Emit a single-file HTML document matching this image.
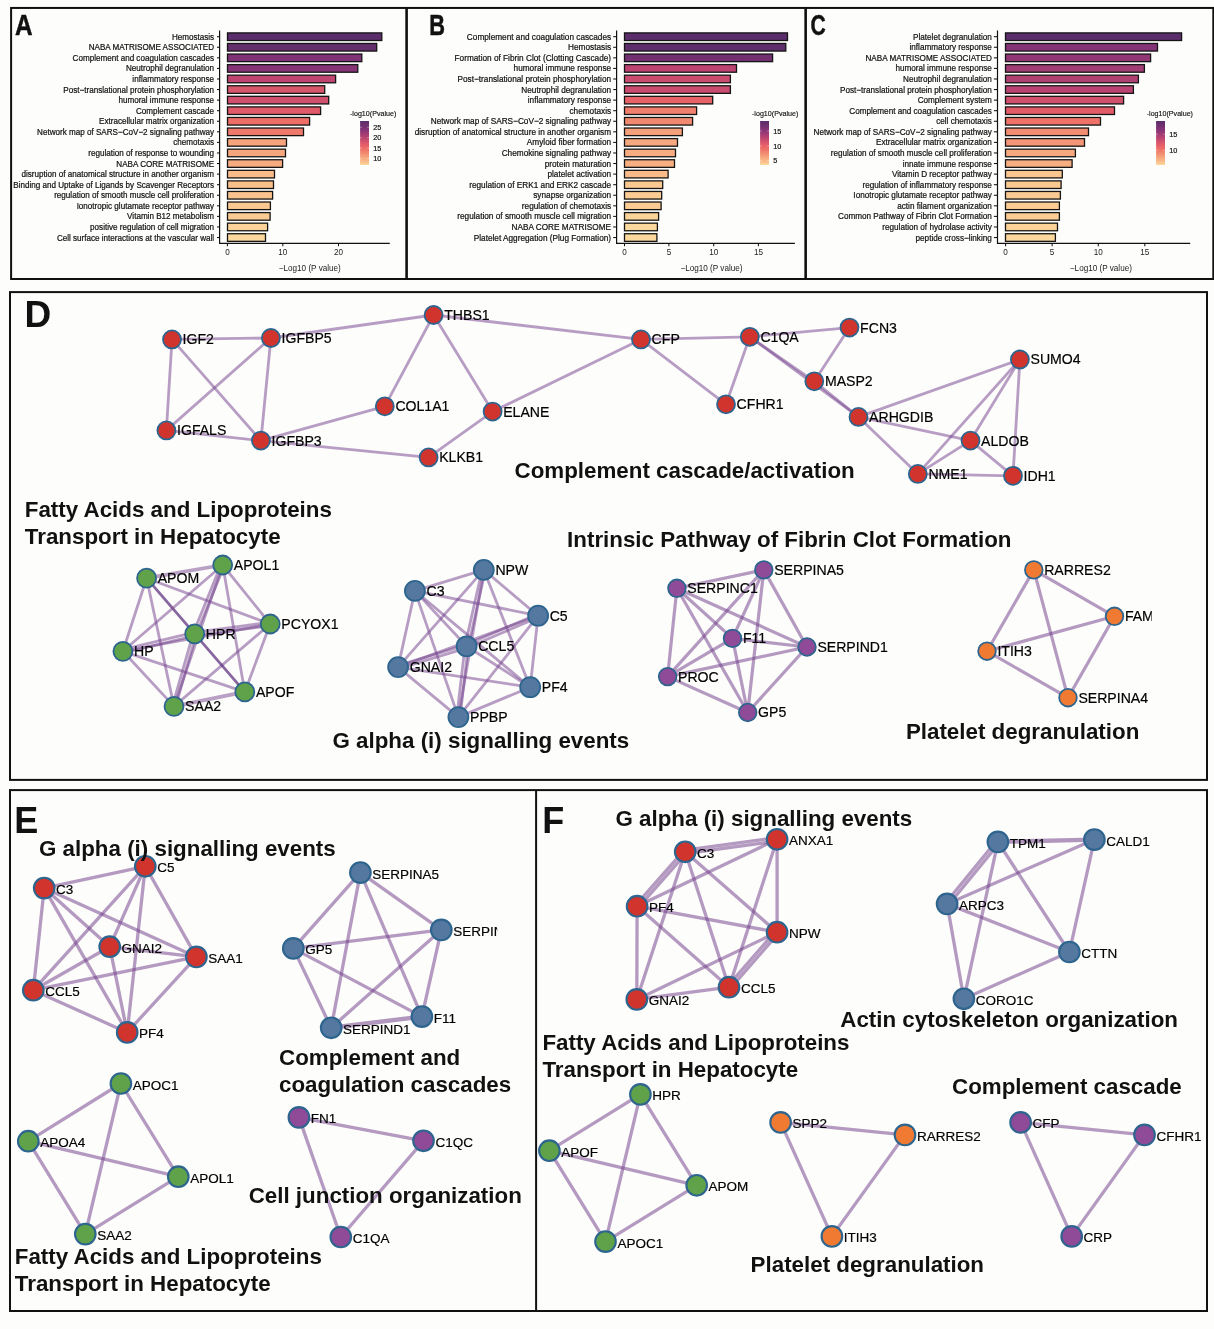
<!DOCTYPE html>
<html lang="en"><head><meta charset="utf-8"><title>Figure</title>
<style>
html,body{margin:0;padding:0;background:#fdfdfb;}
svg{display:block}
text{font-family:"Liberation Sans",Arial,sans-serif;fill:#111}
.bl{font-size:8.8px;text-anchor:end;stroke:#111;stroke-width:.22px}
.tk{font-size:8.8px;text-anchor:middle;fill:#222}
.ax{font-size:8.8px;text-anchor:middle;fill:#222}
.lg{font-size:7.7px;stroke:#111;stroke-width:.15px}
.ll{font-size:7.9px;stroke:#111;stroke-width:.2px}
.nl{font-size:14.1px;fill:#000;stroke:#000;stroke-width:.18px}
.hd{font-size:22.35px;font-weight:bold}
.pl{font-size:36px;font-weight:bold}
.e{stroke:#76458f;stroke-opacity:.52;stroke-width:2.8;stroke-linecap:round;fill:none}
.e2{stroke:#76458f;stroke-opacity:.54;stroke-width:5;stroke-linecap:round;fill:none}
.e3{stroke:#76458f;stroke-opacity:.54;stroke-width:7;stroke-linecap:round;fill:none}
.ed{stroke:#5a2c7d;stroke-opacity:.72;stroke-width:2.8;stroke-linecap:round;fill:none}
.em{stroke:#76458f;stroke-opacity:.5;stroke-width:3.8;stroke-linecap:round;fill:none}
.f{stroke:#76458f;stroke-opacity:.54;stroke-width:3.3;stroke-linecap:round;fill:none}
.fm{stroke:#76458f;stroke-opacity:.56;stroke-width:4.4;stroke-linecap:round;fill:none}
.g{stroke:#76458f;stroke-opacity:.54;stroke-width:3.2;stroke-linecap:round;fill:none}
.n{stroke:#2d658f}
</style></head><body>
<svg width="1214" height="1329" viewBox="0 0 1214 1329">
<rect x="0" y="0" width="1214" height="1329" fill="#fdfdfb"/>

<defs><linearGradient id="cb" x1="0" y1="1" x2="0" y2="0">
<stop offset="0" stop-color="#fbd99c"/>
<stop offset="0.076" stop-color="#fabd8a"/>
<stop offset="0.18" stop-color="#f5a47c"/>
<stop offset="0.324" stop-color="#ef7a6a"/>
<stop offset="0.376" stop-color="#ee6e66"/>
<stop offset="0.471" stop-color="#e25a69"/>
<stop offset="0.51" stop-color="#d9576b"/>
<stop offset="0.6" stop-color="#c04570"/>
<stop offset="0.8" stop-color="#853377"/>
<stop offset="0.957" stop-color="#642d6c"/>
<stop offset="1" stop-color="#5c2d6b"/>
</linearGradient></defs>
<rect x="227.5" y="32.90" width="154.3" height="7.6" fill="#5c2d6b" stroke="#151515" stroke-width="1.3"/>
<line x1="217.0" y1="36.70" x2="219.6" y2="36.70" stroke="#111" stroke-width="1.05"/>
<text class="bl" transform="translate(214.1 39.70) scale(0.9205 1)">Hemostasis</text>
<rect x="227.5" y="43.47" width="149.2" height="7.6" fill="#642d6c" stroke="#151515" stroke-width="1.3"/>
<line x1="217.0" y1="47.27" x2="219.6" y2="47.27" stroke="#111" stroke-width="1.05"/>
<text class="bl" transform="translate(214.1 50.27) scale(0.9205 1)">NABA MATRISOME ASSOCIATED</text>
<rect x="227.5" y="54.04" width="134.3" height="7.6" fill="#7f3275" stroke="#151515" stroke-width="1.3"/>
<line x1="217.0" y1="57.84" x2="219.6" y2="57.84" stroke="#111" stroke-width="1.05"/>
<text class="bl" transform="translate(214.1 60.84) scale(0.9205 1)">Complement and coagulation cascades</text>
<rect x="227.5" y="64.61" width="130.3" height="7.6" fill="#873477" stroke="#151515" stroke-width="1.3"/>
<line x1="217.0" y1="68.41" x2="219.6" y2="68.41" stroke="#111" stroke-width="1.05"/>
<text class="bl" transform="translate(214.1 71.41) scale(0.9205 1)">Neutrophil degranulation</text>
<rect x="227.5" y="75.18" width="108.1" height="7.6" fill="#bf4570" stroke="#151515" stroke-width="1.3"/>
<line x1="217.0" y1="78.98" x2="219.6" y2="78.98" stroke="#111" stroke-width="1.05"/>
<text class="bl" transform="translate(214.1 81.98) scale(0.9205 1)">inflammatory response</text>
<rect x="227.5" y="85.75" width="97.2" height="7.6" fill="#d9576b" stroke="#151515" stroke-width="1.3"/>
<line x1="217.0" y1="89.55" x2="219.6" y2="89.55" stroke="#111" stroke-width="1.05"/>
<text class="bl" transform="translate(214.1 92.55) scale(0.9205 1)">Post−translational protein phosphorylation</text>
<rect x="227.5" y="96.32" width="101.2" height="7.6" fill="#d0506d" stroke="#151515" stroke-width="1.3"/>
<line x1="217.0" y1="100.12" x2="219.6" y2="100.12" stroke="#111" stroke-width="1.05"/>
<text class="bl" transform="translate(214.1 103.12) scale(0.9205 1)">humoral immune response</text>
<rect x="227.5" y="106.89" width="93.1" height="7.6" fill="#e15a69" stroke="#151515" stroke-width="1.3"/>
<line x1="217.0" y1="110.69" x2="219.6" y2="110.69" stroke="#111" stroke-width="1.05"/>
<text class="bl" transform="translate(214.1 113.69) scale(0.9205 1)">Complement cascade</text>
<rect x="227.5" y="117.46" width="82.1" height="7.6" fill="#ee6d66" stroke="#151515" stroke-width="1.3"/>
<line x1="217.0" y1="121.26" x2="219.6" y2="121.26" stroke="#111" stroke-width="1.05"/>
<text class="bl" transform="translate(214.1 124.26) scale(0.9205 1)">Extracellular matrix organization</text>
<rect x="227.5" y="128.03" width="76.0" height="7.6" fill="#ef796a" stroke="#151515" stroke-width="1.3"/>
<line x1="217.0" y1="131.83" x2="219.6" y2="131.83" stroke="#111" stroke-width="1.05"/>
<text class="bl" transform="translate(214.1 134.83) scale(0.9205 1)">Network map of SARS−CoV−2 signaling pathway</text>
<rect x="227.5" y="138.60" width="59.0" height="7.6" fill="#f5a47c" stroke="#151515" stroke-width="1.3"/>
<line x1="217.0" y1="142.40" x2="219.6" y2="142.40" stroke="#111" stroke-width="1.05"/>
<text class="bl" transform="translate(214.1 145.40) scale(0.9205 1)">chemotaxis</text>
<rect x="227.5" y="149.17" width="58.0" height="7.6" fill="#f5a67d" stroke="#151515" stroke-width="1.3"/>
<line x1="217.0" y1="152.97" x2="219.6" y2="152.97" stroke="#111" stroke-width="1.05"/>
<text class="bl" transform="translate(214.1 155.97) scale(0.9205 1)">regulation of response to wounding</text>
<rect x="227.5" y="159.74" width="55.1" height="7.6" fill="#f7ac80" stroke="#151515" stroke-width="1.3"/>
<line x1="217.0" y1="163.54" x2="219.6" y2="163.54" stroke="#111" stroke-width="1.05"/>
<text class="bl" transform="translate(214.1 166.54) scale(0.9205 1)">NABA CORE MATRISOME</text>
<rect x="227.5" y="170.31" width="47.0" height="7.6" fill="#fabd8a" stroke="#151515" stroke-width="1.3"/>
<line x1="217.0" y1="174.11" x2="219.6" y2="174.11" stroke="#111" stroke-width="1.05"/>
<text class="bl" transform="translate(214.1 177.11) scale(0.9205 1)">disruption of anatomical structure in another organism</text>
<rect x="227.5" y="180.88" width="46.0" height="7.6" fill="#fac08c" stroke="#151515" stroke-width="1.3"/>
<line x1="217.0" y1="184.68" x2="219.6" y2="184.68" stroke="#111" stroke-width="1.05"/>
<text class="bl" transform="translate(214.1 187.68) scale(0.9205 1)">Binding and Uptake of Ligands by Scavenger Receptors</text>
<rect x="227.5" y="191.45" width="45.1" height="7.6" fill="#fac38e" stroke="#151515" stroke-width="1.3"/>
<line x1="217.0" y1="195.25" x2="219.6" y2="195.25" stroke="#111" stroke-width="1.05"/>
<text class="bl" transform="translate(214.1 198.25) scale(0.9205 1)">regulation of smooth muscle cell proliferation</text>
<rect x="227.5" y="202.02" width="42.9" height="7.6" fill="#fac992" stroke="#151515" stroke-width="1.3"/>
<line x1="217.0" y1="205.82" x2="219.6" y2="205.82" stroke="#111" stroke-width="1.05"/>
<text class="bl" transform="translate(214.1 208.82) scale(0.9205 1)">Ionotropic glutamate receptor pathway</text>
<rect x="227.5" y="212.59" width="42.6" height="7.6" fill="#faca93" stroke="#151515" stroke-width="1.3"/>
<line x1="217.0" y1="216.39" x2="219.6" y2="216.39" stroke="#111" stroke-width="1.05"/>
<text class="bl" transform="translate(214.1 219.39) scale(0.9205 1)">Vitamin B12 metabolism</text>
<rect x="227.5" y="223.16" width="40.1" height="7.6" fill="#fbd298" stroke="#151515" stroke-width="1.3"/>
<line x1="217.0" y1="226.96" x2="219.6" y2="226.96" stroke="#111" stroke-width="1.05"/>
<text class="bl" transform="translate(214.1 229.96) scale(0.9205 1)">positive regulation of cell migration</text>
<rect x="227.5" y="233.73" width="38.0" height="7.6" fill="#fbd99c" stroke="#151515" stroke-width="1.3"/>
<line x1="217.0" y1="237.53" x2="219.6" y2="237.53" stroke="#111" stroke-width="1.05"/>
<text class="bl" transform="translate(214.1 240.53) scale(0.9205 1)">Cell surface interactions at the vascular wall</text>
<path d="M219.6 30.4V243.4H389.8" fill="none" stroke="#111" stroke-width="1.2"/>
<line x1="227.4" y1="243.3" x2="227.4" y2="246.2" stroke="#111" stroke-width="1.05"/>
<text class="tk" transform="translate(227.4 254.9) scale(.926 1)">0</text>
<line x1="282.8" y1="243.3" x2="282.8" y2="246.2" stroke="#111" stroke-width="1.05"/>
<text class="tk" transform="translate(282.8 254.9) scale(.926 1)">10</text>
<line x1="338.5" y1="243.3" x2="338.5" y2="246.2" stroke="#111" stroke-width="1.05"/>
<text class="tk" transform="translate(338.5 254.9) scale(.926 1)">20</text>
<text class="ax" transform="translate(309.8 270.6) scale(.926 1)">−Log10 (P value)</text>
<text class="lg" transform="translate(350.0 115.7) scale(.926 1)">-log10(Pvalue)</text>
<rect x="360.1" y="121" width="8.9" height="44" fill="url(#cb)"/>
<path d="M360.1 127.3h1.8M369.0 127.3h-1.8" stroke="#fff" stroke-opacity=".7" stroke-width=".5"/>
<text class="ll" transform="translate(373.3 130.1) scale(.926 1)">25</text>
<path d="M360.1 137.7h1.8M369.0 137.7h-1.8" stroke="#fff" stroke-opacity=".7" stroke-width=".5"/>
<text class="ll" transform="translate(373.3 140.4) scale(.926 1)">20</text>
<path d="M360.1 148.0h1.8M369.0 148.0h-1.8" stroke="#fff" stroke-opacity=".7" stroke-width=".5"/>
<text class="ll" transform="translate(373.3 150.8) scale(.926 1)">15</text>
<path d="M360.1 158.5h1.8M369.0 158.5h-1.8" stroke="#fff" stroke-opacity=".7" stroke-width=".5"/>
<text class="ll" transform="translate(373.3 161.2) scale(.926 1)">10</text>
<rect x="624.5" y="32.90" width="163.0" height="7.6" fill="#5c2d6b" stroke="#151515" stroke-width="1.3"/>
<line x1="613.2" y1="36.70" x2="616.6" y2="36.70" stroke="#111" stroke-width="1.05"/>
<text class="bl" transform="translate(611.1 39.70) scale(0.9375 1)">Complement and coagulation cascades</text>
<rect x="624.5" y="43.47" width="161.3" height="7.6" fill="#5e2d6b" stroke="#151515" stroke-width="1.3"/>
<line x1="613.2" y1="47.27" x2="616.6" y2="47.27" stroke="#111" stroke-width="1.05"/>
<text class="bl" transform="translate(611.1 50.27) scale(0.9375 1)">Hemostasis</text>
<rect x="624.5" y="54.04" width="148.1" height="7.6" fill="#733071" stroke="#151515" stroke-width="1.3"/>
<line x1="613.2" y1="57.84" x2="616.6" y2="57.84" stroke="#111" stroke-width="1.05"/>
<text class="bl" transform="translate(611.1 60.84) scale(0.9375 1)">Formation of Fibrin Clot (Clotting Cascade)</text>
<rect x="624.5" y="64.61" width="112.0" height="7.6" fill="#bd4470" stroke="#151515" stroke-width="1.3"/>
<line x1="613.2" y1="68.41" x2="616.6" y2="68.41" stroke="#111" stroke-width="1.05"/>
<text class="bl" transform="translate(611.1 71.41) scale(0.9375 1)">humoral immune response</text>
<rect x="624.5" y="75.18" width="105.9" height="7.6" fill="#ca4c6e" stroke="#151515" stroke-width="1.3"/>
<line x1="613.2" y1="78.98" x2="616.6" y2="78.98" stroke="#111" stroke-width="1.05"/>
<text class="bl" transform="translate(611.1 81.98) scale(0.9375 1)">Post−translational protein phosphorylation</text>
<rect x="624.5" y="85.75" width="105.9" height="7.6" fill="#ca4c6e" stroke="#151515" stroke-width="1.3"/>
<line x1="613.2" y1="89.55" x2="616.6" y2="89.55" stroke="#111" stroke-width="1.05"/>
<text class="bl" transform="translate(611.1 92.55) scale(0.9375 1)">Neutrophil degranulation</text>
<rect x="624.5" y="96.32" width="88.2" height="7.6" fill="#e86368" stroke="#151515" stroke-width="1.3"/>
<line x1="613.2" y1="100.12" x2="616.6" y2="100.12" stroke="#111" stroke-width="1.05"/>
<text class="bl" transform="translate(611.1 103.12) scale(0.9375 1)">inflammatory response</text>
<rect x="624.5" y="106.89" width="72.1" height="7.6" fill="#f0806d" stroke="#151515" stroke-width="1.3"/>
<line x1="613.2" y1="110.69" x2="616.6" y2="110.69" stroke="#111" stroke-width="1.05"/>
<text class="bl" transform="translate(611.1 113.69) scale(0.9375 1)">chemotaxis</text>
<rect x="624.5" y="117.46" width="68.1" height="7.6" fill="#f18970" stroke="#151515" stroke-width="1.3"/>
<line x1="613.2" y1="121.26" x2="616.6" y2="121.26" stroke="#111" stroke-width="1.05"/>
<text class="bl" transform="translate(611.1 124.26) scale(0.9375 1)">Network map of SARS−CoV−2 signaling pathway</text>
<rect x="624.5" y="128.03" width="57.9" height="7.6" fill="#f4a07a" stroke="#151515" stroke-width="1.3"/>
<line x1="613.2" y1="131.83" x2="616.6" y2="131.83" stroke="#111" stroke-width="1.05"/>
<text class="bl" transform="translate(611.1 134.83) scale(0.9375 1)">disruption of anatomical structure in another organism</text>
<rect x="624.5" y="138.60" width="53.0" height="7.6" fill="#f6a97f" stroke="#151515" stroke-width="1.3"/>
<line x1="613.2" y1="142.40" x2="616.6" y2="142.40" stroke="#111" stroke-width="1.05"/>
<text class="bl" transform="translate(611.1 145.40) scale(0.9375 1)">Amyloid fiber formation</text>
<rect x="624.5" y="149.17" width="51.0" height="7.6" fill="#f7ad81" stroke="#151515" stroke-width="1.3"/>
<line x1="613.2" y1="152.97" x2="616.6" y2="152.97" stroke="#111" stroke-width="1.05"/>
<text class="bl" transform="translate(611.1 155.97) scale(0.9375 1)">Chemokine signaling pathway</text>
<rect x="624.5" y="159.74" width="50.0" height="7.6" fill="#f7af82" stroke="#151515" stroke-width="1.3"/>
<line x1="613.2" y1="163.54" x2="616.6" y2="163.54" stroke="#111" stroke-width="1.05"/>
<text class="bl" transform="translate(611.1 166.54) scale(0.9375 1)">protein maturation</text>
<rect x="624.5" y="170.31" width="43.6" height="7.6" fill="#fabb89" stroke="#151515" stroke-width="1.3"/>
<line x1="613.2" y1="174.11" x2="616.6" y2="174.11" stroke="#111" stroke-width="1.05"/>
<text class="bl" transform="translate(611.1 177.11) scale(0.9375 1)">platelet activation</text>
<rect x="624.5" y="180.88" width="38.2" height="7.6" fill="#fac991" stroke="#151515" stroke-width="1.3"/>
<line x1="613.2" y1="184.68" x2="616.6" y2="184.68" stroke="#111" stroke-width="1.05"/>
<text class="bl" transform="translate(611.1 187.68) scale(0.9375 1)">regulation of ERK1 and ERK2 cascade</text>
<rect x="624.5" y="191.45" width="37.2" height="7.6" fill="#fbcb93" stroke="#151515" stroke-width="1.3"/>
<line x1="613.2" y1="195.25" x2="616.6" y2="195.25" stroke="#111" stroke-width="1.05"/>
<text class="bl" transform="translate(611.1 198.25) scale(0.9375 1)">synapse organization</text>
<rect x="624.5" y="202.02" width="36.6" height="7.6" fill="#fbcd94" stroke="#151515" stroke-width="1.3"/>
<line x1="613.2" y1="205.82" x2="616.6" y2="205.82" stroke="#111" stroke-width="1.05"/>
<text class="bl" transform="translate(611.1 208.82) scale(0.9375 1)">regulation of chemotaxis</text>
<rect x="624.5" y="212.59" width="34.1" height="7.6" fill="#fbd499" stroke="#151515" stroke-width="1.3"/>
<line x1="613.2" y1="216.39" x2="616.6" y2="216.39" stroke="#111" stroke-width="1.05"/>
<text class="bl" transform="translate(611.1 219.39) scale(0.9375 1)">regulation of smooth muscle cell migration</text>
<rect x="624.5" y="223.16" width="32.9" height="7.6" fill="#fbd89b" stroke="#151515" stroke-width="1.3"/>
<line x1="613.2" y1="226.96" x2="616.6" y2="226.96" stroke="#111" stroke-width="1.05"/>
<text class="bl" transform="translate(611.1 229.96) scale(0.9375 1)">NABA CORE MATRISOME</text>
<rect x="624.5" y="233.73" width="32.4" height="7.6" fill="#fbd99c" stroke="#151515" stroke-width="1.3"/>
<line x1="613.2" y1="237.53" x2="616.6" y2="237.53" stroke="#111" stroke-width="1.05"/>
<text class="bl" transform="translate(611.1 240.53) scale(0.9375 1)">Platelet Aggregation (Plug Formation)</text>
<path d="M616.6 30.4V243.4H794.9" fill="none" stroke="#111" stroke-width="1.2"/>
<line x1="624.5" y1="243.3" x2="624.5" y2="246.2" stroke="#111" stroke-width="1.05"/>
<text class="tk" transform="translate(624.5 254.9) scale(.926 1)">0</text>
<line x1="668.9" y1="243.3" x2="668.9" y2="246.2" stroke="#111" stroke-width="1.05"/>
<text class="tk" transform="translate(668.9 254.9) scale(.926 1)">5</text>
<line x1="713.7" y1="243.3" x2="713.7" y2="246.2" stroke="#111" stroke-width="1.05"/>
<text class="tk" transform="translate(713.7 254.9) scale(.926 1)">10</text>
<line x1="758.4" y1="243.3" x2="758.4" y2="246.2" stroke="#111" stroke-width="1.05"/>
<text class="tk" transform="translate(758.4 254.9) scale(.926 1)">15</text>
<text class="ax" transform="translate(711.5 270.6) scale(.926 1)">−Log10 (P value)</text>
<text class="lg" transform="translate(752.0 115.7) scale(.926 1)">-log10(Pvalue)</text>
<rect x="760.1" y="121" width="8.9" height="44" fill="url(#cb)"/>
<path d="M760.1 131.0h1.8M769.0 131.0h-1.8" stroke="#fff" stroke-opacity=".7" stroke-width=".5"/>
<text class="ll" transform="translate(773.3 133.8) scale(.926 1)">15</text>
<path d="M760.1 145.8h1.8M769.0 145.8h-1.8" stroke="#fff" stroke-opacity=".7" stroke-width=".5"/>
<text class="ll" transform="translate(773.3 148.6) scale(.926 1)">10</text>
<path d="M760.1 160.5h1.8M769.0 160.5h-1.8" stroke="#fff" stroke-opacity=".7" stroke-width=".5"/>
<text class="ll" transform="translate(773.3 163.2) scale(.926 1)">5</text>
<rect x="1005.5" y="32.90" width="176.1" height="7.6" fill="#5c2d6b" stroke="#151515" stroke-width="1.3"/>
<line x1="993.9" y1="36.70" x2="997.5" y2="36.70" stroke="#111" stroke-width="1.05"/>
<text class="bl" transform="translate(991.8 39.70) scale(0.9261 1)">Platelet degranulation</text>
<rect x="1005.5" y="43.47" width="152.0" height="7.6" fill="#833376" stroke="#151515" stroke-width="1.3"/>
<line x1="993.9" y1="47.27" x2="997.5" y2="47.27" stroke="#111" stroke-width="1.05"/>
<text class="bl" transform="translate(991.8 50.27) scale(0.9261 1)">inflammatory response</text>
<rect x="1005.5" y="54.04" width="145.1" height="7.6" fill="#923775" stroke="#151515" stroke-width="1.3"/>
<line x1="993.9" y1="57.84" x2="997.5" y2="57.84" stroke="#111" stroke-width="1.05"/>
<text class="bl" transform="translate(991.8 60.84) scale(0.9261 1)">NABA MATRISOME ASSOCIATED</text>
<rect x="1005.5" y="64.61" width="138.9" height="7.6" fill="#a13c74" stroke="#151515" stroke-width="1.3"/>
<line x1="993.9" y1="68.41" x2="997.5" y2="68.41" stroke="#111" stroke-width="1.05"/>
<text class="bl" transform="translate(991.8 71.41) scale(0.9261 1)">humoral immune response</text>
<rect x="1005.5" y="75.18" width="132.9" height="7.6" fill="#af4072" stroke="#151515" stroke-width="1.3"/>
<line x1="993.9" y1="78.98" x2="997.5" y2="78.98" stroke="#111" stroke-width="1.05"/>
<text class="bl" transform="translate(991.8 81.98) scale(0.9261 1)">Neutrophil degranulation</text>
<rect x="1005.5" y="85.75" width="127.9" height="7.6" fill="#bb4371" stroke="#151515" stroke-width="1.3"/>
<line x1="993.9" y1="89.55" x2="997.5" y2="89.55" stroke="#111" stroke-width="1.05"/>
<text class="bl" transform="translate(991.8 92.55) scale(0.9261 1)">Post−translational protein phosphorylation</text>
<rect x="1005.5" y="96.32" width="118.1" height="7.6" fill="#d1516d" stroke="#151515" stroke-width="1.3"/>
<line x1="993.9" y1="100.12" x2="997.5" y2="100.12" stroke="#111" stroke-width="1.05"/>
<text class="bl" transform="translate(991.8 103.12) scale(0.9261 1)">Complement system</text>
<rect x="1005.5" y="106.89" width="109.0" height="7.6" fill="#e25b69" stroke="#151515" stroke-width="1.3"/>
<line x1="993.9" y1="110.69" x2="997.5" y2="110.69" stroke="#111" stroke-width="1.05"/>
<text class="bl" transform="translate(991.8 113.69) scale(0.9261 1)">Complement and coagulation cascades</text>
<rect x="1005.5" y="117.46" width="95.0" height="7.6" fill="#ee7267" stroke="#151515" stroke-width="1.3"/>
<line x1="993.9" y1="121.26" x2="997.5" y2="121.26" stroke="#111" stroke-width="1.05"/>
<text class="bl" transform="translate(991.8 124.26) scale(0.9261 1)">cell chemotaxis</text>
<rect x="1005.5" y="128.03" width="83.0" height="7.6" fill="#f28c72" stroke="#151515" stroke-width="1.3"/>
<line x1="993.9" y1="131.83" x2="997.5" y2="131.83" stroke="#111" stroke-width="1.05"/>
<text class="bl" transform="translate(991.8 134.83) scale(0.9261 1)">Network map of SARS−CoV−2 signaling pathway</text>
<rect x="1005.5" y="138.60" width="79.0" height="7.6" fill="#f39576" stroke="#151515" stroke-width="1.3"/>
<line x1="993.9" y1="142.40" x2="997.5" y2="142.40" stroke="#111" stroke-width="1.05"/>
<text class="bl" transform="translate(991.8 145.40) scale(0.9261 1)">Extracellular matrix organization</text>
<rect x="1005.5" y="149.17" width="69.9" height="7.6" fill="#f6a97f" stroke="#151515" stroke-width="1.3"/>
<line x1="993.9" y1="152.97" x2="997.5" y2="152.97" stroke="#111" stroke-width="1.05"/>
<text class="bl" transform="translate(991.8 155.97) scale(0.9261 1)">regulation of smooth muscle cell proliferation</text>
<rect x="1005.5" y="159.74" width="66.6" height="7.6" fill="#f7af82" stroke="#151515" stroke-width="1.3"/>
<line x1="993.9" y1="163.54" x2="997.5" y2="163.54" stroke="#111" stroke-width="1.05"/>
<text class="bl" transform="translate(991.8 166.54) scale(0.9261 1)">innate immune response</text>
<rect x="1005.5" y="170.31" width="56.8" height="7.6" fill="#fac58f" stroke="#151515" stroke-width="1.3"/>
<line x1="993.9" y1="174.11" x2="997.5" y2="174.11" stroke="#111" stroke-width="1.05"/>
<text class="bl" transform="translate(991.8 177.11) scale(0.9261 1)">Vitamin D receptor pathway</text>
<rect x="1005.5" y="180.88" width="55.6" height="7.6" fill="#fac891" stroke="#151515" stroke-width="1.3"/>
<line x1="993.9" y1="184.68" x2="997.5" y2="184.68" stroke="#111" stroke-width="1.05"/>
<text class="bl" transform="translate(991.8 187.68) scale(0.9261 1)">regulation of inflammatory response</text>
<rect x="1005.5" y="191.45" width="54.9" height="7.6" fill="#faca93" stroke="#151515" stroke-width="1.3"/>
<line x1="993.9" y1="195.25" x2="997.5" y2="195.25" stroke="#111" stroke-width="1.05"/>
<text class="bl" transform="translate(991.8 198.25) scale(0.9261 1)">Ionotropic glutamate receptor pathway</text>
<rect x="1005.5" y="202.02" width="53.9" height="7.6" fill="#fbcd94" stroke="#151515" stroke-width="1.3"/>
<line x1="993.9" y1="205.82" x2="997.5" y2="205.82" stroke="#111" stroke-width="1.05"/>
<text class="bl" transform="translate(991.8 208.82) scale(0.9261 1)">actin filament organization</text>
<rect x="1005.5" y="212.59" width="53.9" height="7.6" fill="#fbcd94" stroke="#151515" stroke-width="1.3"/>
<line x1="993.9" y1="216.39" x2="997.5" y2="216.39" stroke="#111" stroke-width="1.05"/>
<text class="bl" transform="translate(991.8 219.39) scale(0.9261 1)">Common Pathway of Fibrin Clot Formation</text>
<rect x="1005.5" y="223.16" width="52.0" height="7.6" fill="#fbd398" stroke="#151515" stroke-width="1.3"/>
<line x1="993.9" y1="226.96" x2="997.5" y2="226.96" stroke="#111" stroke-width="1.05"/>
<text class="bl" transform="translate(991.8 229.96) scale(0.9261 1)">regulation of hydrolase activity</text>
<rect x="1005.5" y="233.73" width="49.9" height="7.6" fill="#fbd99c" stroke="#151515" stroke-width="1.3"/>
<line x1="993.9" y1="237.53" x2="997.5" y2="237.53" stroke="#111" stroke-width="1.05"/>
<text class="bl" transform="translate(991.8 240.53) scale(0.9261 1)">peptide cross−linking</text>
<path d="M997.5 30.4V243.4H1190.2" fill="none" stroke="#111" stroke-width="1.2"/>
<line x1="1005.6" y1="243.3" x2="1005.6" y2="246.2" stroke="#111" stroke-width="1.05"/>
<text class="tk" transform="translate(1005.6 254.9) scale(.926 1)">0</text>
<line x1="1052.1" y1="243.3" x2="1052.1" y2="246.2" stroke="#111" stroke-width="1.05"/>
<text class="tk" transform="translate(1052.1 254.9) scale(.926 1)">5</text>
<line x1="1098.3" y1="243.3" x2="1098.3" y2="246.2" stroke="#111" stroke-width="1.05"/>
<text class="tk" transform="translate(1098.3 254.9) scale(.926 1)">10</text>
<line x1="1144.8" y1="243.3" x2="1144.8" y2="246.2" stroke="#111" stroke-width="1.05"/>
<text class="tk" transform="translate(1144.8 254.9) scale(.926 1)">15</text>
<text class="ax" transform="translate(1100.9 270.6) scale(.926 1)">−Log10 (P value)</text>
<text class="lg" transform="translate(1146.7 115.7) scale(.926 1)">-log10(Pvalue)</text>
<rect x="1156.1" y="121" width="8.9" height="44" fill="url(#cb)"/>
<path d="M1156.1 134.3h1.8M1165.0 134.3h-1.8" stroke="#fff" stroke-opacity=".7" stroke-width=".5"/>
<text class="ll" transform="translate(1169.3 137.1) scale(.926 1)">15</text>
<path d="M1156.1 150.3h1.8M1165.0 150.3h-1.8" stroke="#fff" stroke-opacity=".7" stroke-width=".5"/>
<text class="ll" transform="translate(1169.3 153.1) scale(.926 1)">10</text>
<text transform="translate(15.1 34.9) scale(0.83 1)" style="font-size:29.3px;font-weight:bold;stroke:#111;stroke-width:.5px">A</text>
<text transform="translate(429.3 34.9) scale(0.745 1)" style="font-size:29.3px;font-weight:bold;stroke:#111;stroke-width:.5px">B</text>
<text transform="translate(810.5 34.9) scale(0.72 1)" style="font-size:29.3px;font-weight:bold;stroke:#111;stroke-width:.5px">C</text>
<g fill="none" stroke="#111" stroke-width="2">
<rect x="11.1" y="7.95" width="1202.2" height="271.05"/>
<path d="M406.6 7.95V279M805.65 7.95V279" stroke-width="2.6"/>
<rect x="10" y="292.1" width="1197" height="487.8"/>
<rect x="10" y="790.1" width="1197" height="520.9"/>
<path d="M536.1 790.1V1311"/>
</g>
<defs><clipPath id="c1"><rect x="1100" y="600" width="51.8" height="40"/></clipPath><clipPath id="c2"><rect x="430" y="910" width="67.2" height="40"/></clipPath></defs>
<line class="e" x1="172.0" y1="339.4" x2="270.9" y2="338.0"/>
<line class="e" x1="172.0" y1="339.4" x2="166.4" y2="430.4"/>
<line class="e" x1="172.0" y1="339.4" x2="260.9" y2="440.6"/>
<line class="e" x1="270.9" y1="338.0" x2="166.4" y2="430.4"/>
<line class="e" x1="270.9" y1="338.0" x2="260.9" y2="440.6"/>
<line class="e" x1="166.4" y1="430.4" x2="260.9" y2="440.6"/>
<line class="e" x1="270.9" y1="338.0" x2="433.6" y2="315.0"/>
<line class="e" x1="433.6" y1="315.0" x2="384.8" y2="406.3"/>
<line class="e" x1="433.6" y1="315.0" x2="492.6" y2="411.6"/>
<line class="e" x1="384.8" y1="406.3" x2="260.9" y2="440.6"/>
<line class="e" x1="260.9" y1="440.6" x2="428.6" y2="457.4"/>
<line class="e" x1="428.6" y1="457.4" x2="492.6" y2="411.6"/>
<line class="e" x1="433.6" y1="315.0" x2="641.0" y2="339.4"/>
<line class="e" x1="492.6" y1="411.6" x2="641.0" y2="339.4"/>
<line class="e" x1="641.0" y1="339.4" x2="749.8" y2="336.8"/>
<line class="e" x1="641.0" y1="339.4" x2="726.0" y2="404.3"/>
<line class="e" x1="749.8" y1="336.8" x2="726.0" y2="404.3"/>
<line class="e" x1="749.8" y1="336.8" x2="849.5" y2="327.6"/>
<line class="e" x1="749.8" y1="336.8" x2="814.3" y2="381.3"/>
<line class="e" x1="749.8" y1="336.8" x2="858.5" y2="416.9"/>
<line class="e" x1="849.5" y1="327.6" x2="814.3" y2="381.3"/>
<line class="e" x1="814.3" y1="381.3" x2="858.5" y2="416.9"/>
<line class="e" x1="858.5" y1="416.9" x2="1019.9" y2="359.5"/>
<line class="e" x1="858.5" y1="416.9" x2="970.5" y2="440.6"/>
<line class="e" x1="858.5" y1="416.9" x2="917.8" y2="473.9"/>
<line class="e" x1="1019.9" y1="359.5" x2="917.8" y2="473.9"/>
<line class="e" x1="1019.9" y1="359.5" x2="970.5" y2="440.6"/>
<line class="e" x1="1019.9" y1="359.5" x2="1013.0" y2="475.8"/>
<line class="e" x1="970.5" y1="440.6" x2="917.8" y2="473.9"/>
<line class="e" x1="970.5" y1="440.6" x2="1013.0" y2="475.8"/>
<line class="e" x1="917.8" y1="473.9" x2="1013.0" y2="475.8"/>
<circle class="n" cx="172.0" cy="339.4" r="9.0" fill="#d0342c" stroke-width="1.8"/>
<circle class="n" cx="270.9" cy="338.0" r="9.0" fill="#d0342c" stroke-width="1.8"/>
<circle class="n" cx="433.6" cy="315.0" r="9.0" fill="#d0342c" stroke-width="1.8"/>
<circle class="n" cx="384.8" cy="406.3" r="9.0" fill="#d0342c" stroke-width="1.8"/>
<circle class="n" cx="492.6" cy="411.6" r="9.0" fill="#d0342c" stroke-width="1.8"/>
<circle class="n" cx="166.4" cy="430.4" r="9.0" fill="#d0342c" stroke-width="1.8"/>
<circle class="n" cx="260.9" cy="440.6" r="9.0" fill="#d0342c" stroke-width="1.8"/>
<circle class="n" cx="428.6" cy="457.4" r="9.0" fill="#d0342c" stroke-width="1.8"/>
<circle class="n" cx="641.0" cy="339.4" r="9.0" fill="#d0342c" stroke-width="1.8"/>
<circle class="n" cx="749.8" cy="336.8" r="9.0" fill="#d0342c" stroke-width="1.8"/>
<circle class="n" cx="849.5" cy="327.6" r="9.0" fill="#d0342c" stroke-width="1.8"/>
<circle class="n" cx="814.3" cy="381.3" r="9.0" fill="#d0342c" stroke-width="1.8"/>
<circle class="n" cx="726.0" cy="404.3" r="9.0" fill="#d0342c" stroke-width="1.8"/>
<circle class="n" cx="858.5" cy="416.9" r="9.0" fill="#d0342c" stroke-width="1.8"/>
<circle class="n" cx="1019.9" cy="359.5" r="9.0" fill="#d0342c" stroke-width="1.8"/>
<circle class="n" cx="970.5" cy="440.6" r="9.0" fill="#d0342c" stroke-width="1.8"/>
<circle class="n" cx="917.8" cy="473.9" r="9.0" fill="#d0342c" stroke-width="1.8"/>
<circle class="n" cx="1013.0" cy="475.8" r="9.0" fill="#d0342c" stroke-width="1.8"/>
<text class="nl" x="182.6" y="344.3">IGF2</text>
<text class="nl" x="281.5" y="342.9">IGFBP5</text>
<text class="nl" x="444.2" y="319.9">THBS1</text>
<text class="nl" x="395.4" y="411.2">COL1A1</text>
<text class="nl" x="503.2" y="416.5">ELANE</text>
<text class="nl" x="177.0" y="435.3">IGFALS</text>
<text class="nl" x="271.5" y="445.5">IGFBP3</text>
<text class="nl" x="439.2" y="462.3">KLKB1</text>
<text class="nl" x="651.6" y="344.3">CFP</text>
<text class="nl" x="760.4" y="341.7">C1QA</text>
<text class="nl" x="860.1" y="332.5">FCN3</text>
<text class="nl" x="824.9" y="386.2">MASP2</text>
<text class="nl" x="736.6" y="409.2">CFHR1</text>
<text class="nl" x="869.1" y="421.8">ARHGDIB</text>
<text class="nl" x="1030.5" y="364.4">SUMO4</text>
<text class="nl" x="981.1" y="445.5">ALDOB</text>
<text class="nl" x="928.4" y="478.8">NME1</text>
<text class="nl" x="1023.6" y="480.7">IDH1</text>
<line class="em" x1="146.6" y1="578.2" x2="222.7" y2="565.0"/>
<line class="e" x1="146.6" y1="578.2" x2="270.2" y2="624.0"/>
<line class="ed" x1="146.6" y1="578.2" x2="194.7" y2="633.9"/>
<line class="e" x1="146.6" y1="578.2" x2="122.9" y2="651.3"/>
<line class="e" x1="146.6" y1="578.2" x2="174.0" y2="706.4"/>
<line class="e" x1="222.7" y1="565.0" x2="270.2" y2="624.0"/>
<line class="e" x1="224.2" y1="565.6" x2="196.2" y2="634.5"/>
<line class="e" x1="221.2" y1="564.4" x2="193.2" y2="633.3"/>
<line class="e" x1="222.7" y1="565.0" x2="122.9" y2="651.3"/>
<line class="e" x1="222.7" y1="565.0" x2="244.8" y2="691.9"/>
<line class="e" x1="222.7" y1="565.0" x2="174.0" y2="706.4"/>
<line class="e" x1="270.4" y1="625.6" x2="194.9" y2="635.5"/>
<line class="e" x1="270.0" y1="622.4" x2="194.5" y2="632.3"/>
<line class="e" x1="270.2" y1="624.0" x2="122.9" y2="651.3"/>
<line class="e" x1="270.2" y1="624.0" x2="244.8" y2="691.9"/>
<line class="e" x1="270.2" y1="624.0" x2="174.0" y2="706.4"/>
<line class="e" x1="195.1" y1="635.5" x2="123.3" y2="652.9"/>
<line class="e" x1="194.3" y1="632.3" x2="122.5" y2="649.7"/>
<line class="ed" x1="194.7" y1="633.9" x2="244.8" y2="691.9"/>
<line class="e" x1="196.2" y1="634.3" x2="175.5" y2="706.8"/>
<line class="e" x1="193.2" y1="633.5" x2="172.5" y2="706.0"/>
<line class="e" x1="122.9" y1="651.3" x2="244.8" y2="691.9"/>
<line class="e" x1="122.9" y1="651.3" x2="174.0" y2="706.4"/>
<line class="em" x1="244.8" y1="691.9" x2="174.0" y2="706.4"/>
<circle class="n" cx="146.6" cy="578.2" r="9.5" fill="#5fa249" stroke-width="1.8"/>
<circle class="n" cx="222.7" cy="565.0" r="9.5" fill="#5fa249" stroke-width="1.8"/>
<circle class="n" cx="270.2" cy="624.0" r="9.5" fill="#5fa249" stroke-width="1.8"/>
<circle class="n" cx="194.7" cy="633.9" r="9.5" fill="#5fa249" stroke-width="1.8"/>
<circle class="n" cx="122.9" cy="651.3" r="9.5" fill="#5fa249" stroke-width="1.8"/>
<circle class="n" cx="244.8" cy="691.9" r="9.5" fill="#5fa249" stroke-width="1.8"/>
<circle class="n" cx="174.0" cy="706.4" r="9.5" fill="#5fa249" stroke-width="1.8"/>
<text class="nl" x="157.7" y="583.1">APOM</text>
<text class="nl" x="233.8" y="569.9">APOL1</text>
<text class="nl" x="281.3" y="628.9">PCYOX1</text>
<text class="nl" x="205.8" y="638.8">HPR</text>
<text class="nl" x="134.0" y="656.2">HP</text>
<text class="nl" x="255.9" y="696.8">APOF</text>
<text class="nl" x="185.1" y="711.3">SAA2</text>
<line class="e" x1="483.8" y1="569.9" x2="414.9" y2="590.9"/>
<line class="e" x1="483.8" y1="569.9" x2="538.1" y2="615.7"/>
<line class="e" x1="485.4" y1="570.3" x2="468.2" y2="646.7"/>
<line class="e" x1="482.2" y1="569.5" x2="465.0" y2="645.9"/>
<line class="e" x1="483.8" y1="569.9" x2="398.1" y2="667.1"/>
<line class="e" x1="483.8" y1="569.9" x2="530.2" y2="687.2"/>
<line class="e" x1="483.8" y1="569.9" x2="458.4" y2="717.1"/>
<line class="e" x1="414.9" y1="590.9" x2="538.1" y2="615.7"/>
<line class="e" x1="414.9" y1="590.9" x2="466.6" y2="646.3"/>
<line class="e" x1="414.9" y1="590.9" x2="398.1" y2="667.1"/>
<line class="e" x1="414.9" y1="590.9" x2="530.2" y2="687.2"/>
<line class="e" x1="414.9" y1="590.9" x2="458.4" y2="717.1"/>
<line class="e" x1="538.7" y1="617.2" x2="467.2" y2="647.8"/>
<line class="e" x1="537.5" y1="614.2" x2="466.0" y2="644.8"/>
<line class="e" x1="538.1" y1="615.7" x2="398.1" y2="667.1"/>
<line class="e" x1="538.1" y1="615.7" x2="530.2" y2="687.2"/>
<line class="e" x1="538.1" y1="615.7" x2="458.4" y2="717.1"/>
<line class="e" x1="467.1" y1="647.8" x2="398.6" y2="668.6"/>
<line class="e" x1="466.1" y1="644.8" x2="397.6" y2="665.6"/>
<line class="e" x1="466.6" y1="646.3" x2="530.2" y2="687.2"/>
<line class="e" x1="468.2" y1="646.5" x2="460.0" y2="717.3"/>
<line class="e" x1="465.0" y1="646.1" x2="456.8" y2="716.9"/>
<line class="e" x1="398.1" y1="667.1" x2="530.2" y2="687.2"/>
<line class="e" x1="398.1" y1="667.1" x2="458.4" y2="717.1"/>
<line class="e" x1="530.2" y1="687.2" x2="458.4" y2="717.1"/>
<circle class="n" cx="483.8" cy="569.9" r="10.0" fill="#54789f" stroke-width="1.8"/>
<circle class="n" cx="414.9" cy="590.9" r="10.0" fill="#54789f" stroke-width="1.8"/>
<circle class="n" cx="538.1" cy="615.7" r="10.0" fill="#54789f" stroke-width="1.8"/>
<circle class="n" cx="466.6" cy="646.3" r="10.0" fill="#54789f" stroke-width="1.8"/>
<circle class="n" cx="398.1" cy="667.1" r="10.0" fill="#54789f" stroke-width="1.8"/>
<circle class="n" cx="530.2" cy="687.2" r="10.0" fill="#54789f" stroke-width="1.8"/>
<circle class="n" cx="458.4" cy="717.1" r="10.0" fill="#54789f" stroke-width="1.8"/>
<text class="nl" x="495.4" y="574.8">NPW</text>
<text class="nl" x="426.5" y="595.8">C3</text>
<text class="nl" x="549.7" y="620.6">C5</text>
<text class="nl" x="478.2" y="651.2">CCL5</text>
<text class="nl" x="409.7" y="672.0">GNAI2</text>
<text class="nl" x="541.8" y="692.1">PF4</text>
<text class="nl" x="470.0" y="722.0">PPBP</text>
<line class="g" x1="763.8" y1="569.9" x2="676.9" y2="588.3"/>
<line class="g" x1="763.8" y1="569.9" x2="732.5" y2="638.4"/>
<line class="g" x1="763.8" y1="569.9" x2="807.0" y2="647.0"/>
<line class="g" x1="763.8" y1="569.9" x2="667.6" y2="676.6"/>
<line class="g" x1="763.8" y1="569.9" x2="747.7" y2="712.5"/>
<line class="g" x1="676.9" y1="588.3" x2="732.5" y2="638.4"/>
<line class="g" x1="676.9" y1="588.3" x2="807.0" y2="647.0"/>
<line class="g" x1="676.9" y1="588.3" x2="667.6" y2="676.6"/>
<line class="g" x1="676.9" y1="588.3" x2="747.7" y2="712.5"/>
<line class="g" x1="732.5" y1="638.4" x2="807.0" y2="647.0"/>
<line class="g" x1="732.5" y1="638.4" x2="667.6" y2="676.6"/>
<line class="g" x1="732.5" y1="638.4" x2="747.7" y2="712.5"/>
<line class="g" x1="807.0" y1="647.0" x2="667.6" y2="676.6"/>
<line class="g" x1="807.0" y1="647.0" x2="747.7" y2="712.5"/>
<line class="g" x1="667.6" y1="676.6" x2="747.7" y2="712.5"/>
<circle class="n" cx="763.8" cy="569.9" r="8.8" fill="#8f4a98" stroke-width="1.8"/>
<circle class="n" cx="676.9" cy="588.3" r="8.8" fill="#8f4a98" stroke-width="1.8"/>
<circle class="n" cx="732.5" cy="638.4" r="8.8" fill="#8f4a98" stroke-width="1.8"/>
<circle class="n" cx="807.0" cy="647.0" r="8.8" fill="#8f4a98" stroke-width="1.8"/>
<circle class="n" cx="667.6" cy="676.6" r="8.8" fill="#8f4a98" stroke-width="1.8"/>
<circle class="n" cx="747.7" cy="712.5" r="8.8" fill="#8f4a98" stroke-width="1.8"/>
<text class="nl" x="774.2" y="574.8">SERPINA5</text>
<text class="nl" x="687.3" y="593.2">SERPINC1</text>
<text class="nl" x="742.9" y="643.3">F11</text>
<text class="nl" x="817.4" y="651.9">SERPIND1</text>
<text class="nl" x="678.0" y="681.5">PROC</text>
<text class="nl" x="758.1" y="717.4">GP5</text>
<line class="g" x1="1033.8" y1="569.9" x2="1114.5" y2="616.3"/>
<line class="g" x1="1033.8" y1="569.9" x2="987.0" y2="651.2"/>
<line class="g" x1="1033.8" y1="569.9" x2="1068.0" y2="697.7"/>
<line class="g" x1="1114.5" y1="616.3" x2="987.0" y2="651.2"/>
<line class="g" x1="1114.5" y1="616.3" x2="1068.0" y2="697.7"/>
<line class="g" x1="987.0" y1="651.2" x2="1068.0" y2="697.7"/>
<circle class="n" cx="1033.8" cy="569.9" r="8.8" fill="#f07a31" stroke-width="1.8"/>
<circle class="n" cx="1114.5" cy="616.3" r="8.8" fill="#f07a31" stroke-width="1.8"/>
<circle class="n" cx="987.0" cy="651.2" r="8.8" fill="#f07a31" stroke-width="1.8"/>
<circle class="n" cx="1068.0" cy="697.7" r="8.8" fill="#f07a31" stroke-width="1.8"/>
<text class="nl" x="1044.2" y="574.8">RARRES2</text>
<text class="nl" x="1124.9" y="621.2" clip-path="url(#c1)">FAM3C</text>
<text class="nl" x="997.4" y="656.1">ITIH3</text>
<text class="nl" x="1078.4" y="702.6">SERPINA4</text>
<line class="f" x1="145.3" y1="866.3" x2="44.2" y2="888.1"/>
<line class="f" x1="145.3" y1="866.3" x2="109.7" y2="946.7"/>
<line class="f" x1="145.3" y1="866.3" x2="196.4" y2="956.9"/>
<line class="f" x1="145.3" y1="866.3" x2="33.3" y2="990.2"/>
<line class="f" x1="145.3" y1="866.3" x2="127.2" y2="1032.4"/>
<line class="f" x1="44.2" y1="888.1" x2="109.7" y2="946.7"/>
<line class="f" x1="44.2" y1="888.1" x2="196.4" y2="956.9"/>
<line class="f" x1="44.2" y1="888.1" x2="33.3" y2="990.2"/>
<line class="f" x1="44.2" y1="888.1" x2="127.2" y2="1032.4"/>
<line class="f" x1="109.7" y1="946.7" x2="196.4" y2="956.9"/>
<line class="f" x1="109.7" y1="946.7" x2="33.3" y2="990.2"/>
<line class="f" x1="109.7" y1="946.7" x2="127.2" y2="1032.4"/>
<line class="f" x1="196.4" y1="956.9" x2="33.3" y2="990.2"/>
<line class="f" x1="196.4" y1="956.9" x2="127.2" y2="1032.4"/>
<line class="f" x1="33.3" y1="990.2" x2="127.2" y2="1032.4"/>
<circle class="n" cx="145.3" cy="866.3" r="10.3" fill="#d0342c" stroke-width="2.1"/>
<circle class="n" cx="44.2" cy="888.1" r="10.3" fill="#d0342c" stroke-width="2.1"/>
<circle class="n" cx="109.7" cy="946.7" r="10.3" fill="#d0342c" stroke-width="2.1"/>
<circle class="n" cx="196.4" cy="956.9" r="10.3" fill="#d0342c" stroke-width="2.1"/>
<circle class="n" cx="33.3" cy="990.2" r="10.3" fill="#d0342c" stroke-width="2.1"/>
<circle class="n" cx="127.2" cy="1032.4" r="10.3" fill="#d0342c" stroke-width="2.1"/>
<text class="nl" x="157.2" y="872.3" style="font-size:13.5px">C5</text>
<text class="nl" x="56.1" y="894.1" style="font-size:13.5px">C3</text>
<text class="nl" x="121.6" y="952.7" style="font-size:13.5px">GNAI2</text>
<text class="nl" x="208.3" y="962.9" style="font-size:13.5px">SAA1</text>
<text class="nl" x="45.2" y="996.2" style="font-size:13.5px">CCL5</text>
<text class="nl" x="139.1" y="1038.4" style="font-size:13.5px">PF4</text>
<line class="f" x1="360.4" y1="872.6" x2="441.3" y2="929.9"/>
<line class="f" x1="360.4" y1="872.6" x2="293.3" y2="948.4"/>
<line class="f" x1="360.4" y1="872.6" x2="421.9" y2="1016.6"/>
<line class="f" x1="360.4" y1="872.6" x2="331.2" y2="1027.8"/>
<line class="f" x1="441.3" y1="929.9" x2="293.3" y2="948.4"/>
<line class="f" x1="441.3" y1="929.9" x2="421.9" y2="1016.6"/>
<line class="f" x1="441.3" y1="929.9" x2="331.2" y2="1027.8"/>
<line class="f" x1="293.3" y1="948.4" x2="421.9" y2="1016.6"/>
<line class="f" x1="293.3" y1="948.4" x2="331.2" y2="1027.8"/>
<line class="fm" x1="421.9" y1="1016.6" x2="331.2" y2="1027.8"/>
<circle class="n" cx="360.4" cy="872.6" r="10.3" fill="#54789f" stroke-width="2.1"/>
<circle class="n" cx="441.3" cy="929.9" r="10.3" fill="#54789f" stroke-width="2.1"/>
<circle class="n" cx="293.3" cy="948.4" r="10.3" fill="#54789f" stroke-width="2.1"/>
<circle class="n" cx="421.9" cy="1016.6" r="10.3" fill="#54789f" stroke-width="2.1"/>
<circle class="n" cx="331.2" cy="1027.8" r="10.3" fill="#54789f" stroke-width="2.1"/>
<text class="nl" x="372.3" y="878.6" style="font-size:13.5px">SERPINA5</text>
<text class="nl" x="453.2" y="935.9" clip-path="url(#c2)" style="font-size:13.5px">SERPINF2</text>
<text class="nl" x="305.2" y="954.4" style="font-size:13.5px">GP5</text>
<text class="nl" x="433.8" y="1022.6" style="font-size:13.5px">F11</text>
<text class="nl" x="343.1" y="1033.8" style="font-size:13.5px">SERPIND1</text>
<line class="f" x1="120.9" y1="1083.5" x2="28.3" y2="1141.2"/>
<line class="f" x1="120.9" y1="1083.5" x2="178.3" y2="1176.7"/>
<line class="f" x1="120.9" y1="1083.5" x2="85.3" y2="1234.1"/>
<line class="f" x1="28.3" y1="1141.2" x2="178.3" y2="1176.7"/>
<line class="f" x1="28.3" y1="1141.2" x2="85.3" y2="1234.1"/>
<line class="f" x1="178.3" y1="1176.7" x2="85.3" y2="1234.1"/>
<circle class="n" cx="120.9" cy="1083.5" r="10.3" fill="#5fa249" stroke-width="2.1"/>
<circle class="n" cx="28.3" cy="1141.2" r="10.3" fill="#5fa249" stroke-width="2.1"/>
<circle class="n" cx="178.3" cy="1176.7" r="10.3" fill="#5fa249" stroke-width="2.1"/>
<circle class="n" cx="85.3" cy="1234.1" r="10.3" fill="#5fa249" stroke-width="2.1"/>
<text class="nl" x="132.8" y="1089.5" style="font-size:13.5px">APOC1</text>
<text class="nl" x="40.2" y="1147.2" style="font-size:13.5px">APOA4</text>
<text class="nl" x="190.2" y="1182.7" style="font-size:13.5px">APOL1</text>
<text class="nl" x="97.2" y="1240.1" style="font-size:13.5px">SAA2</text>
<line class="f" x1="298.9" y1="1117.4" x2="423.5" y2="1140.8"/>
<line class="f" x1="298.9" y1="1117.4" x2="340.8" y2="1237.0"/>
<line class="f" x1="423.5" y1="1140.8" x2="340.8" y2="1237.0"/>
<circle class="n" cx="298.9" cy="1117.4" r="10.3" fill="#8f4a98" stroke-width="2.1"/>
<circle class="n" cx="423.5" cy="1140.8" r="10.3" fill="#8f4a98" stroke-width="2.1"/>
<circle class="n" cx="340.8" cy="1237.0" r="10.3" fill="#8f4a98" stroke-width="2.1"/>
<text class="nl" x="310.8" y="1123.4" style="font-size:13.5px">FN1</text>
<text class="nl" x="435.4" y="1146.8" style="font-size:13.5px">C1QC</text>
<text class="nl" x="352.7" y="1243.0" style="font-size:13.5px">C1QA</text>
<line class="f" x1="777.3" y1="841.0" x2="685.4" y2="853.5"/>
<line class="f" x1="776.9" y1="837.6" x2="685.0" y2="850.1"/>
<line class="f" x1="777.1" y1="839.3" x2="637.1" y2="906.2"/>
<line class="f" x1="777.1" y1="839.3" x2="777.1" y2="932.2"/>
<line class="f" x1="777.1" y1="839.3" x2="729.0" y2="987.2"/>
<line class="f" x1="686.5" y1="852.9" x2="638.4" y2="907.3"/>
<line class="f" x1="683.9" y1="850.7" x2="635.8" y2="905.1"/>
<line class="f" x1="685.2" y1="851.8" x2="777.1" y2="932.2"/>
<line class="f" x1="685.2" y1="851.8" x2="729.0" y2="987.2"/>
<line class="f" x1="685.2" y1="851.8" x2="636.8" y2="999.4"/>
<line class="f" x1="637.1" y1="906.2" x2="777.1" y2="932.2"/>
<line class="f" x1="637.1" y1="906.2" x2="729.0" y2="987.2"/>
<line class="f" x1="637.1" y1="906.2" x2="636.8" y2="999.4"/>
<line class="f" x1="778.4" y1="933.3" x2="730.3" y2="988.3"/>
<line class="f" x1="775.8" y1="931.1" x2="727.7" y2="986.1"/>
<line class="f" x1="777.1" y1="932.2" x2="636.8" y2="999.4"/>
<line class="f" x1="729.0" y1="987.2" x2="636.8" y2="999.4"/>
<circle class="n" cx="777.1" cy="839.3" r="10.3" fill="#d0342c" stroke-width="2.1"/>
<circle class="n" cx="685.2" cy="851.8" r="10.3" fill="#d0342c" stroke-width="2.1"/>
<circle class="n" cx="637.1" cy="906.2" r="10.3" fill="#d0342c" stroke-width="2.1"/>
<circle class="n" cx="777.1" cy="932.2" r="10.3" fill="#d0342c" stroke-width="2.1"/>
<circle class="n" cx="729.0" cy="987.2" r="10.3" fill="#d0342c" stroke-width="2.1"/>
<circle class="n" cx="636.8" cy="999.4" r="10.3" fill="#d0342c" stroke-width="2.1"/>
<text class="nl" x="789.0" y="845.3" style="font-size:13.5px">ANXA1</text>
<text class="nl" x="697.1" y="857.8" style="font-size:13.5px">C3</text>
<text class="nl" x="649.0" y="912.2" style="font-size:13.5px">PF4</text>
<text class="nl" x="789.0" y="938.2" style="font-size:13.5px">NPW</text>
<text class="nl" x="740.9" y="993.2" style="font-size:13.5px">CCL5</text>
<text class="nl" x="648.7" y="1005.4" style="font-size:13.5px">GNAI2</text>
<line class="fm" x1="997.9" y1="841.9" x2="1094.4" y2="839.6"/>
<line class="f" x1="999.2" y1="843.0" x2="948.4" y2="905.0"/>
<line class="f" x1="996.6" y1="840.8" x2="945.8" y2="902.8"/>
<line class="f" x1="997.9" y1="841.9" x2="1069.4" y2="952.0"/>
<line class="f" x1="997.9" y1="841.9" x2="963.9" y2="998.8"/>
<line class="f" x1="1094.4" y1="839.6" x2="947.1" y2="903.9"/>
<line class="f" x1="1094.4" y1="839.6" x2="1069.4" y2="952.0"/>
<line class="f" x1="947.1" y1="903.9" x2="1069.4" y2="952.0"/>
<line class="f" x1="947.1" y1="903.9" x2="963.9" y2="998.8"/>
<line class="f" x1="1069.4" y1="952.0" x2="963.9" y2="998.8"/>
<circle class="n" cx="997.9" cy="841.9" r="10.3" fill="#54789f" stroke-width="2.1"/>
<circle class="n" cx="1094.4" cy="839.6" r="10.3" fill="#54789f" stroke-width="2.1"/>
<circle class="n" cx="947.1" cy="903.9" r="10.3" fill="#54789f" stroke-width="2.1"/>
<circle class="n" cx="1069.4" cy="952.0" r="10.3" fill="#54789f" stroke-width="2.1"/>
<circle class="n" cx="963.9" cy="998.8" r="10.3" fill="#54789f" stroke-width="2.1"/>
<text class="nl" x="1009.8" y="847.9" style="font-size:13.5px">TPM1</text>
<text class="nl" x="1106.3" y="845.6" style="font-size:13.5px">CALD1</text>
<text class="nl" x="959.0" y="909.9" style="font-size:13.5px">ARPC3</text>
<text class="nl" x="1081.3" y="958.0" style="font-size:13.5px">CTTN</text>
<text class="nl" x="975.8" y="1004.8" style="font-size:13.5px">CORO1C</text>
<line class="f" x1="640.4" y1="1094.4" x2="549.4" y2="1150.7"/>
<line class="f" x1="640.4" y1="1094.4" x2="696.7" y2="1185.3"/>
<line class="f" x1="640.4" y1="1094.4" x2="605.5" y2="1241.6"/>
<line class="f" x1="549.4" y1="1150.7" x2="696.7" y2="1185.3"/>
<line class="f" x1="549.4" y1="1150.7" x2="605.5" y2="1241.6"/>
<line class="f" x1="696.7" y1="1185.3" x2="605.5" y2="1241.6"/>
<circle class="n" cx="640.4" cy="1094.4" r="10.3" fill="#5fa249" stroke-width="2.1"/>
<circle class="n" cx="549.4" cy="1150.7" r="10.3" fill="#5fa249" stroke-width="2.1"/>
<circle class="n" cx="696.7" cy="1185.3" r="10.3" fill="#5fa249" stroke-width="2.1"/>
<circle class="n" cx="605.5" cy="1241.6" r="10.3" fill="#5fa249" stroke-width="2.1"/>
<text class="nl" x="652.3" y="1100.4" style="font-size:13.5px">HPR</text>
<text class="nl" x="561.3" y="1156.7" style="font-size:13.5px">APOF</text>
<text class="nl" x="708.6" y="1191.3" style="font-size:13.5px">APOM</text>
<text class="nl" x="617.4" y="1247.6" style="font-size:13.5px">APOC1</text>
<line class="f" x1="780.6" y1="1122.4" x2="905.0" y2="1134.9"/>
<line class="f" x1="780.6" y1="1122.4" x2="831.9" y2="1236.4"/>
<line class="f" x1="905.0" y1="1134.9" x2="831.9" y2="1236.4"/>
<circle class="n" cx="780.6" cy="1122.4" r="10.3" fill="#f07a31" stroke-width="2.1"/>
<circle class="n" cx="905.0" cy="1134.9" r="10.3" fill="#f07a31" stroke-width="2.1"/>
<circle class="n" cx="831.9" cy="1236.4" r="10.3" fill="#f07a31" stroke-width="2.1"/>
<text class="nl" x="792.5" y="1128.4" style="font-size:13.5px">SPP2</text>
<text class="nl" x="916.9" y="1140.9" style="font-size:13.5px">RARRES2</text>
<text class="nl" x="843.8" y="1242.4" style="font-size:13.5px">ITIH3</text>
<line class="f" x1="1020.6" y1="1122.4" x2="1144.5" y2="1134.9"/>
<line class="f" x1="1020.6" y1="1122.4" x2="1071.7" y2="1236.4"/>
<line class="f" x1="1144.5" y1="1134.9" x2="1071.7" y2="1236.4"/>
<circle class="n" cx="1020.6" cy="1122.4" r="10.3" fill="#8f4a98" stroke-width="2.1"/>
<circle class="n" cx="1144.5" cy="1134.9" r="10.3" fill="#8f4a98" stroke-width="2.1"/>
<circle class="n" cx="1071.7" cy="1236.4" r="10.3" fill="#8f4a98" stroke-width="2.1"/>
<text class="nl" x="1032.5" y="1128.4" style="font-size:13.5px">CFP</text>
<text class="nl" x="1156.4" y="1140.9" style="font-size:13.5px">CFHR1</text>
<text class="nl" x="1083.6" y="1242.4" style="font-size:13.5px">CRP</text>
<text class="hd" x="514.5" y="478.2">Complement cascade/activation</text>
<text class="hd" x="24.8" y="517.1">Fatty Acids and Lipoproteins</text>
<text class="hd" x="24.8" y="544.1">Transport in Hepatocyte</text>
<text class="hd" x="567.1" y="547.2">Intrinsic Pathway of Fibrin Clot Formation</text>
<text class="hd" x="332.5" y="747.8">G alpha (i) signalling events</text>
<text class="hd" x="905.9" y="738.6">Platelet degranulation</text>
<text class="hd" x="39.0" y="856.4">G alpha (i) signalling events</text>
<text class="hd" x="279.0" y="1065.3">Complement and</text>
<text class="hd" x="279.0" y="1091.6">coagulation cascades</text>
<text class="hd" x="248.7" y="1203.0">Cell junction organization</text>
<text class="hd" x="14.8" y="1264.0">Fatty Acids and Lipoproteins</text>
<text class="hd" x="14.8" y="1291.0">Transport in Hepatocyte</text>
<text class="hd" x="615.5" y="825.6">G alpha (i) signalling events</text>
<text class="hd" x="840.3" y="1027.1">Actin cytoskeleton organization</text>
<text class="hd" x="542.4" y="1050.3">Fatty Acids and Lipoproteins</text>
<text class="hd" x="542.4" y="1077.0">Transport in Hepatocyte</text>
<text class="hd" x="952.0" y="1094.0">Complement cascade</text>
<text class="hd" x="750.6" y="1271.6">Platelet degranulation</text>
<text class="pl" x="24.4" y="326.8" style="font-size:37px">D</text>
<text class="pl" x="14.3" y="832.9">E</text>
<text class="pl" x="542.2" y="832.9">F</text>
</svg></body></html>
